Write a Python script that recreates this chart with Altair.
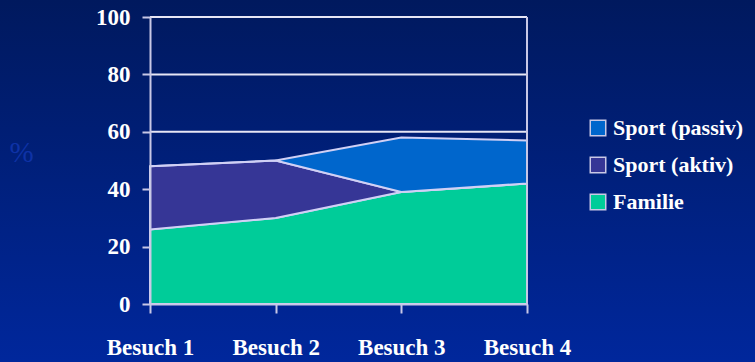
import altair as alt
import pandas as pd

# Besuche und Anteile (%) je Kategorie
besuche = ["Besuch 1", "Besuch 2", "Besuch 3", "Besuch 4"]
familie = [26, 30, 39, 42]
sport_aktiv = [22, 20, 0, 0]
sport_passiv = [0, 0, 19, 15]

kategorien = ["Sport (passiv)", "Sport (aktiv)", "Familie"]
farben = ["#0066cc", "#363696", "#00cc99"]
gitter = [20, 40, 60, 80, 100]

rows = []
for i, b in enumerate(besuche):
    rows.append({"Besuch": b, "Kategorie": "Familie", "Wert": familie[i], "ord": 0})
    rows.append({"Besuch": b, "Kategorie": "Sport (aktiv)", "Wert": sport_aktiv[i], "ord": 1})
    rows.append({"Besuch": b, "Kategorie": "Sport (passiv)", "Wert": sport_passiv[i], "ord": 2})
df = pd.DataFrame(rows)

W, H = 377, 287
PAD_L, PAD_T, PAD_R, PAD_B = 150, 17, 228, 58
FONT = "Liberation Serif"

x_enc = alt.X("Besuch:N", sort=besuche,
              scale=alt.Scale(type="point", padding=0, domain=besuche),
              axis=alt.Axis(title=None, labelAngle=0, labelFont=FONT, labelFontSize=23,
                            labelFontWeight="bold", labelColor="white", tickSize=9,
                            tickColor="#c8c8e6", domainColor="#c8c8e6", domainWidth=2,
                            tickWidth=2, labelPadding=23, grid=False, zindex=1))

# Hintergrund mit vertikalem Farbverlauf über die ganze Fläche
bg = alt.Chart(pd.DataFrame({"a": [0]})).mark_rect(
    clip=False,
    fill={"gradient": "linear", "x1": 0, "y1": 0, "x2": 0, "y2": 1,
          "stops": [{"offset": 0, "color": "#00195e"},
                    {"offset": 1, "color": "#00279c"}]},
).encode(x=alt.value(-PAD_L), x2=alt.value(W + PAD_R), y=alt.value(-PAD_T), y2=alt.value(H + PAD_B))

grid = alt.Chart(pd.DataFrame({"g": gitter})).mark_rule(color="#e6e6f5", strokeWidth=2).encode(
    y=alt.Y("g:Q", scale=alt.Scale(domain=[0, 100])),
    x=alt.value(0), x2=alt.value(W))

right_border = alt.Chart(pd.DataFrame({"a": [0]})).mark_rule(color="#c8c8e6", strokeWidth=2).encode(
    x=alt.value(W), y=alt.value(0), y2=alt.value(H))

areas = alt.Chart(df).mark_area(stroke="#d0d0f5", strokeWidth=2, opacity=1).encode(
    x=x_enc,
    y=alt.Y("Wert:Q", stack="zero", scale=alt.Scale(domain=[0, 100]),
            axis=alt.Axis(values=[0, 20, 40, 60, 80, 100], title="%", titleAngle=0,
                          titleFont=FONT, titleFontSize=29, titleFontWeight="normal",
                          titleColor="#0e32a6", titleX=-129, titleY=135, titleAlign="center",
                          titleBaseline="middle",
                          labelFont=FONT, labelFontSize=23, labelFontWeight="bold",
                          labelColor="white", tickSize=8, tickColor="#c8c8e6", tickWidth=2,
                          domainColor="#c8c8e6", domainWidth=2, labelPadding=12,
                          grid=False, zindex=1)),
    color=alt.Color("Kategorie:N", scale=alt.Scale(domain=kategorien, range=farben),
                    legend=alt.Legend(title=None, orient="none", legendX=437, legendY=100,
                                      symbolType="square", symbolSize=240,
                                      symbolStrokeColor="#c8c8e6", symbolStrokeWidth=1.5,
                                      symbolOpacity=1, labelFont=FONT, labelFontSize=22,
                                      labelFontWeight="bold", labelColor="white",
                                      labelOffset=4, rowPadding=15, labelLimit=200)),
    order=alt.Order("ord:Q"),
)

chart = alt.layer(bg, grid, areas, right_border).properties(
    width=W, height=H,
    autosize=alt.AutoSizeParams(type="none"),
    padding={"left": PAD_L, "top": PAD_T, "right": PAD_R, "bottom": PAD_B},
    background="#00209a",
).configure_view(stroke=None)

chart.save("out.html", embed_options={"renderer": "svg", "actions": False})
